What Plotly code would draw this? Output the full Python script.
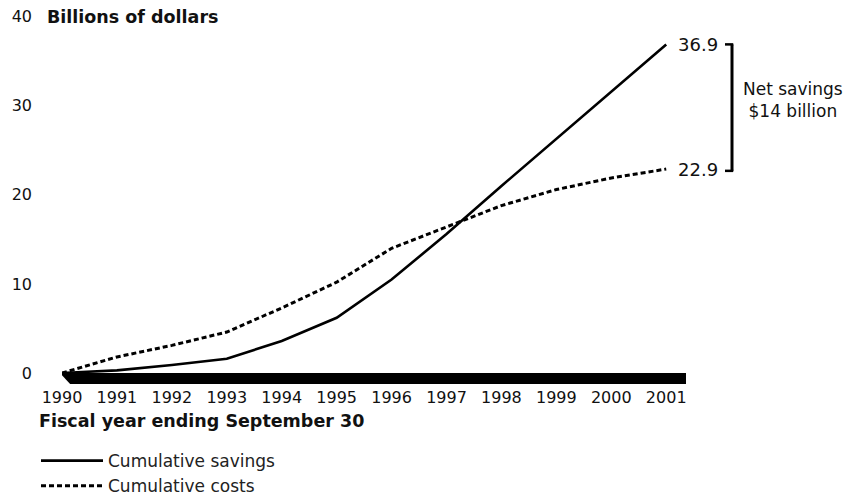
import plotly.graph_objects as go

years = list(range(1990, 2002))
savings = [0, 0.3, 0.9, 1.6, 3.6, 6.2, 10.5, 15.6, 21.0, 26.3, 31.6, 36.9]
costs = [0, 1.8, 3.1, 4.6, 7.3, 10.2, 14.0, 16.4, 18.8, 20.6, 21.9, 22.9]
y_ticks = [0, 10, 20, 30, 40]

FONT = "DejaVu Sans, sans-serif"
INK = "#111111"

# the page adds an 8px body margin; work in reference pixels minus that offset
OFF = 8
Y_MAX = 40.2
W, H = 852 - OFF, 495 - OFF
L = 62 - OFF
R = W - (686 - OFF)
T = 17 - (Y_MAX - 40) * 8.9 - OFF
B = H - (373 - OFF)
PW, PH = W - L - R, H - T - B


def px(x):
    return (x - OFF - L) / PW


def py(y):
    return (H - B - (y - OFF)) / PH


fig = go.Figure()
fig.add_trace(go.Scatter(x=years, y=savings, mode="lines", name="Cumulative savings",
                         cliponaxis=False, line=dict(color="black", width=2.6)))
fig.add_trace(go.Scatter(x=years, y=costs, mode="lines", name="Cumulative costs",
                         cliponaxis=False, line=dict(color="black", width=3, dash="5px,3px")))

fig.update_layout(
    width=W, height=H,
    margin=dict(l=L, r=R, t=T, b=B, autoexpand=False),
    paper_bgcolor="white", plot_bgcolor="white",
    font=dict(family=FONT, size=16, color=INK),
    showlegend=True,
    legend=dict(x=px(36), y=py(443), xanchor="left", yanchor="top",
                font=dict(size=17, color="#222"), itemwidth=62,
                tracegroupgap=0, bgcolor="rgba(0,0,0,0)"),
)
fig.update_xaxes(range=[1990, 2001.36], tickvals=years, ticktext=[str(y) for y in years],
                 showgrid=False, zeroline=False, showline=True, linecolor="black",
                 linewidth=11, ticks="", tickfont=dict(size=16), ticklabelstandoff=0)
fig.update_yaxes(range=[0, Y_MAX], tickvals=y_ticks, showgrid=False, zeroline=False,
                 showline=False, ticks="", tickfont=dict(size=16), ticklabelstandoff=29,
                 ticklabeloverflow="allow")

# slanted left end of the axis bar
fig.add_shape(type="path", xref="paper", yref="paper", layer="above",
              path=(f"M{px(52)},{py(371)} L{px(58)},{py(371)} L{px(72)},{py(386)} "
                    f"L{px(52)},{py(386)} Z"),
              fillcolor="white", line=dict(width=0))

fig.add_annotation(text="<b>Billions of dollars</b>", xref="paper", yref="y", x=px(45), y=40,
                   xanchor="left", yanchor="middle", showarrow=False, font=dict(size=17.5))
fig.add_annotation(text="<b>Fiscal year ending September 30</b>", xref="paper", yref="paper",
                   x=px(37), y=py(421), xanchor="left", yanchor="middle", showarrow=False,
                   font=dict(size=17.5))

# end labels
fig.add_annotation(text=f"{savings[-1]}", x=years[-1], y=savings[-1], xanchor="left",
                   yanchor="middle", xshift=10, showarrow=False, font=dict(size=18))
fig.add_annotation(text=f"{costs[-1]}", x=years[-1], y=costs[-1], xanchor="left",
                   yanchor="middle", xshift=10, showarrow=False, font=dict(size=18))

# bracket
bx, tx = px(732), px(725)
top, bot = savings[-1], costs[-1] - 0.2
fig.add_shape(type="line", xref="paper", yref="y", x0=bx, x1=bx, y0=bot, y1=top,
              line=dict(color="black", width=3))
for v in (top, bot):
    fig.add_shape(type="line", xref="paper", yref="y", x0=tx, x1=bx + 0.002, y0=v, y1=v,
                  line=dict(color="black", width=2.5))
net = round(savings[-1] - costs[-1])
fig.add_annotation(text=f"Net savings<br>${net} billion", xref="paper", yref="paper",
                   x=px(793), y=py(100),
                   xanchor="center", yanchor="middle", showarrow=False,
                   font=dict(size=17), align="center")

fig.write_html("out.html")
